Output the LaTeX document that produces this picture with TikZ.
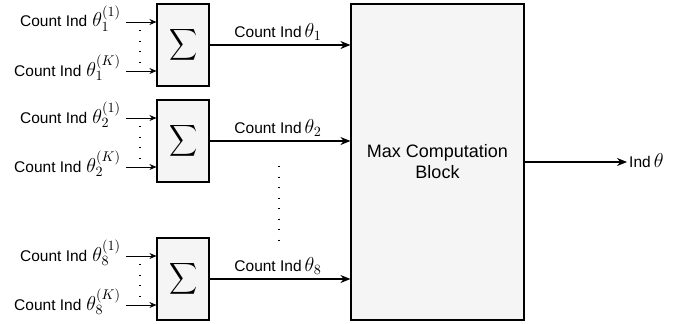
\RequirePackage{fix-cm}
\documentclass[tikz,border=0pt]{standalone}
\usepackage[no-math]{fontspec}
\setmainfont{Liberation Sans}
\usetikzlibrary{arrows.meta}
% enlarged math for the signal labels
\newcommand{\mth}[1]{\scalebox{1.3}{$#1$}}
\begin{document}
\begin{tikzpicture}[x=1pt,y=-1pt,
  sumbox/.style={draw,line width=1.1pt,fill=black!4,minimum width=52pt,minimum height=82pt,inner sep=0pt},
  bigbox/.style={draw,line width=1.1pt,fill=black!4,minimum width=173pt,minimum height=316pt,inner sep=0pt,align=center,font=\fontsize{18}{21}\selectfont},
  inlab/.style={anchor=base east,inner sep=0pt,font=\fontsize{15.5}{18}\selectfont},
  outlab/.style={anchor=base,inner sep=0pt,font=\fontsize{15.5}{18}\selectfont},
  inarrow/.style={-{Stealth[length=7pt,width=6pt]},line width=0.8pt},
  outarrow/.style={-{Stealth[length=10pt,width=8pt]},line width=1.1pt},
  dotline/.style={line width=1.3pt,dash pattern=on 1.3pt off 9.2pt}
]
\useasboundingbox (0,0) rectangle (689,324);

% summation blocks with their inputs
\foreach \i/\top/\sub in {1/4/1,2/100/2,3/238/8}{
  \node[sumbox] (s\i) at (183,\top+41) {};
  \node[inner sep=0pt] (g\i) at ([xshift=1pt]s\i.center) {\scalebox{1.95}[2.2]{$\displaystyle\sum$}};
  \coordinate (a\i) at (126,\top+18);
  \coordinate (b\i) at (126,\top+67);
  \draw[inarrow] (a\i) -- (a\i -| s\i.west);
  \draw[inarrow] (b\i) -- (b\i -| s\i.west);
  \node[inlab] (la\i) at ([xshift=-5pt,yshift=-5pt]a\i) {Count Ind\hspace{5pt}\mth{\theta_{\sub}^{(1)}}};
  \node[inlab] (lb\i) at ([xshift=-5pt,yshift=-5pt]b\i) {Count Ind\hspace{5pt}\mth{\theta_{\sub}^{(K)}}};
  \draw[dotline] (140,\top+26) -- (140,\top+59);
}

% max block
\node[bigbox] (mx) at (437.5,162) {Max Computation\\Block};

% sums into the max block
\foreach \i/\sub in {1/1,2/2,3/8}{
  \draw[outarrow] (s\i.east) -- (s\i.east -| mx.west)
    coordinate[pos=0.5] (m\i);
  \node[outlab] (lm\i) at ([xshift=-2pt,yshift=7.5pt]m\i) {Count Ind\hspace{3pt}\mth{\theta_{\sub}}};
}
\draw[dotline] (279,166) -- (279,240);

% output
\coordinate (o) at (627,162);
\draw[outarrow] (mx.east) -- (o);
\node[anchor=base west,inner sep=0pt,font=\fontsize{15.5}{18}\selectfont] (ol) at ([xshift=2pt,yshift=-5pt]o) {Ind\hspace{3pt}\mth{\theta}};
\end{tikzpicture}
\end{document}
